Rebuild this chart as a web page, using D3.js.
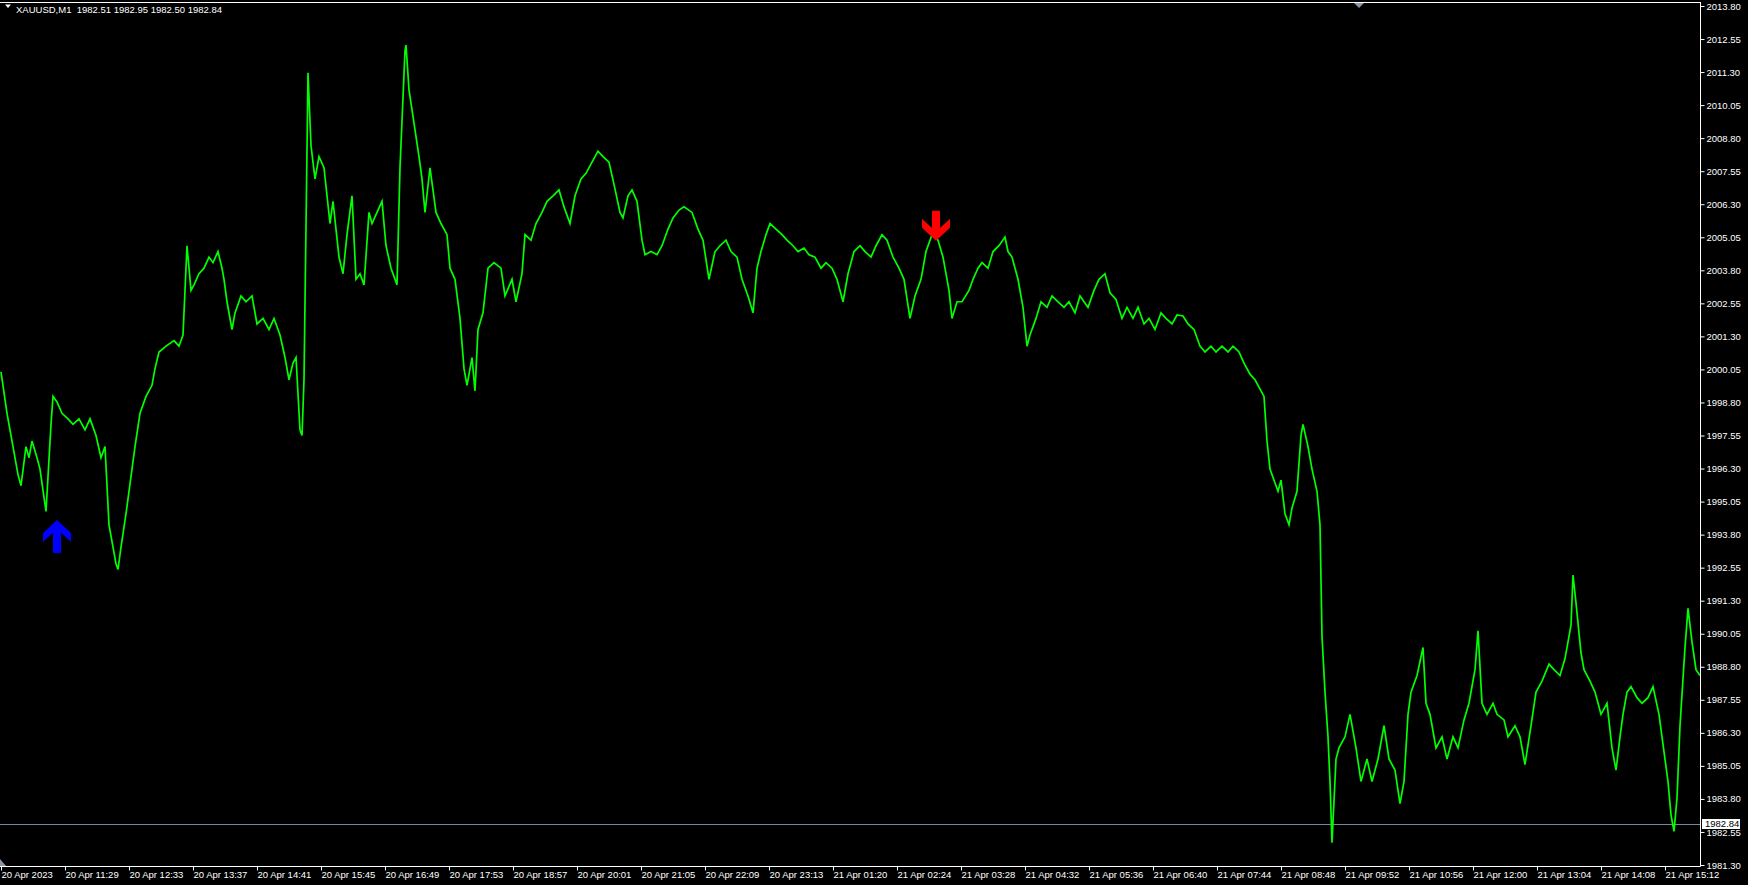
<!DOCTYPE html>
<html><head><meta charset="utf-8">
<script src="https://cdn.jsdelivr.net/npm/d3@7"></script>
<style>
html,body{margin:0;padding:0;background:#000;}
svg{display:block;}
text{font-family:"Liberation Sans",Arial,sans-serif;}
</style></head>
<body>
<svg id="c" width="1748" height="885"></svg>
<script>
// ---- data ----
const symbolTitle = "XAUUSD,M1";
const ohlcText = "1982.51 1982.95 1982.50 1982.84";
const lastPrice = 1982.84;

const barIndex = [0,6,11,17,20,25,28,31,36,39,45,50,52,56,61,67,72,78,84,89,95,100,104,108,112,115,117,120,125,128,134,139,145,151,154,158,165,173,178,182,186,190,193,198,203,208,212,217,221,223,226,231,234,240,245,251,256,262,268,273,279,284,288,292,295,299,301,303,307,310,314,318,323,329,332,338,342,346,351,355,359,363,368,371,376,381,385,390,396,399,404,405,408,413,418,421,424,429,435,440,446,449,454,459,463,466,471,474,477,482,487,493,500,504,511,515,521,524,530,535,541,546,552,558,563,569,574,580,585,591,597,602,608,613,619,622,627,631,636,641,644,650,656,661,667,672,678,683,691,697,702,708,714,719,725,730,736,741,747,752,756,760,765,769,775,781,786,792,797,803,808,814,820,825,831,836,842,847,853,859,864,870,875,881,886,892,898,903,909,914,920,925,931,937,942,948,951,956,961,968,972,977,981,987,992,998,1004,1007,1011,1017,1022,1026,1029,1035,1040,1046,1051,1057,1063,1068,1074,1079,1087,1093,1098,1104,1109,1115,1121,1126,1132,1137,1143,1148,1154,1160,1165,1171,1176,1182,1187,1193,1199,1204,1210,1215,1221,1227,1232,1238,1243,1249,1254,1260,1263,1266,1269,1273,1277,1280,1284,1288,1291,1296,1300,1302,1307,1311,1316,1319,1321,1324,1327,1329,1331,1335,1338,1344,1349,1355,1360,1366,1371,1377,1383,1388,1394,1399,1403,1407,1410,1416,1422,1425,1429,1435,1441,1446,1452,1457,1463,1468,1474,1477,1481,1486,1492,1496,1503,1507,1514,1519,1524,1530,1535,1541,1548,1553,1559,1564,1570,1572,1575,1580,1583,1589,1594,1600,1606,1611,1615,1619,1622,1626,1630,1636,1641,1647,1652,1658,1661,1667,1670,1673,1676,1679,1684,1687,1691,1695,1699];

const closePrice = [1999.96,1998.39,1997.34,1996.07,1995.65,1997.13,1996.71,1997.34,1996.71,1996.28,1994.68,1997.97,1999.03,1998.82,1998.39,1998.18,1997.97,1998.18,1997.76,1998.18,1997.55,1996.71,1997.13,1994.17,1993.33,1992.70,1992.48,1993.33,1994.59,1995.44,1997.13,1998.39,1999.03,1999.45,2000.08,2000.71,2000.93,2001.14,2000.93,2001.35,2004.73,2003.04,2003.25,2003.67,2003.88,2004.30,2004.09,2004.51,2003.88,2003.46,2002.61,2001.56,2002.19,2002.83,2002.61,2002.83,2001.77,2001.98,2001.56,2001.98,2001.35,2000.50,1999.66,2000.29,2000.50,1997.76,1997.55,1999.66,2011.27,2008.52,2007.26,2008.10,2007.68,2005.57,2006.41,2004.30,2003.67,2005.15,2006.62,2003.46,2003.67,2003.25,2005.99,2005.57,2005.99,2006.41,2004.73,2003.88,2003.25,2007.68,2012.11,2012.32,2010.63,2009.37,2008.10,2007.26,2005.99,2007.68,2005.99,2005.57,2005.15,2003.88,2003.46,2001.98,2000.08,1999.45,2000.50,1999.24,2001.56,2002.19,2003.88,2004.09,2003.88,2002.83,2003.46,2002.61,2003.67,2005.15,2004.94,2005.57,2005.99,2006.41,2006.62,2006.84,2006.20,2005.57,2006.62,2007.26,2007.47,2007.89,2008.31,2008.10,2007.89,2007.05,2005.99,2005.78,2006.62,2006.84,2006.41,2004.94,2004.39,2004.51,2004.39,2004.73,2005.36,2005.78,2006.08,2006.20,2005.99,2005.36,2004.94,2003.46,2004.51,2004.73,2004.94,2004.51,2004.30,2003.46,2002.83,2002.19,2003.88,2004.51,2005.15,2005.57,2005.36,2005.15,2004.94,2004.73,2004.51,2004.64,2004.39,2004.30,2003.88,2004.09,2003.88,2003.46,2002.61,2003.67,2004.51,2004.73,2004.51,2004.30,2004.73,2005.15,2004.94,2004.30,2003.88,2003.46,2001.98,2002.83,2003.46,2004.51,2005.15,2004.94,2004.30,2003.04,2001.98,2002.61,2002.61,2003.04,2003.46,2003.88,2004.09,2003.88,2004.51,2004.73,2005.06,2004.51,2004.30,2003.46,2002.40,2000.93,2001.35,2001.98,2002.61,2002.40,2002.83,2002.61,2002.40,2002.61,2002.19,2002.83,2002.40,2003.04,2003.46,2003.67,2002.95,2002.70,2001.98,2002.40,2001.98,2002.40,2001.77,2001.98,2001.56,2002.19,2001.98,2001.77,2002.11,2002.07,2001.77,2001.56,2000.93,2000.71,2000.93,2000.71,2000.93,2000.71,2000.93,2000.71,2000.29,1999.87,1999.66,1999.24,1999.03,1997.34,1996.28,1995.86,1995.44,1995.86,1994.59,1994.17,1994.81,1995.44,1997.55,1997.97,1997.13,1996.28,1995.44,1994.17,1989.95,1987.84,1986.15,1984.46,1982.14,1985.31,1985.73,1986.15,1987.00,1985.73,1984.46,1985.31,1984.46,1985.31,1986.57,1985.31,1984.89,1983.62,1984.46,1987.00,1987.84,1988.47,1989.53,1987.42,1987.00,1985.73,1986.15,1985.31,1986.15,1985.73,1986.79,1987.42,1988.69,1990.16,1987.42,1987.00,1987.42,1987.00,1986.79,1986.15,1986.57,1986.15,1985.10,1986.57,1987.84,1988.26,1988.90,1988.69,1988.47,1989.11,1990.37,1992.27,1991.22,1989.32,1988.69,1988.26,1987.84,1987.00,1987.42,1985.73,1984.89,1986.15,1987.00,1987.84,1988.05,1987.63,1987.42,1987.63,1988.05,1987.00,1986.15,1984.46,1983.20,1982.57,1983.83,1986.57,1989.53,1991.01,1989.74,1988.69,1988.47];

const priceTicks = [2013.80,2012.55,2011.30,2010.05,2008.80,2007.55,2006.30,2005.05,2003.80,2002.55,2001.30,2000.05,1998.80,1997.55,1996.30,1995.05,1993.80,1992.55,1991.30,1990.05,1988.80,1987.55,1986.30,1985.05,1983.80,1982.55,1981.30];

const timeLabels = ["20 Apr 2023","20 Apr 11:29","20 Apr 12:33","20 Apr 13:37","20 Apr 14:41","20 Apr 15:45","20 Apr 16:49","20 Apr 17:53","20 Apr 18:57","20 Apr 20:01","20 Apr 21:05","20 Apr 22:09","20 Apr 23:13","21 Apr 01:20","21 Apr 02:24","21 Apr 03:28","21 Apr 04:32","21 Apr 05:36","21 Apr 06:40","21 Apr 07:44","21 Apr 08:48","21 Apr 09:52","21 Apr 10:56","21 Apr 12:00","21 Apr 13:04","21 Apr 14:08","21 Apr 15:12"];
const timeLabelBars = [0,64,128,192,256,320,384,448,512,576,640,704,768,832,896,960,1024,1088,1152,1216,1280,1344,1408,1472,1536,1600,1664];

const buySignalBar = [56];
const buySignalPrice = [1994.35];
const sellSignalBar = [935];
const sellSignalPrice = [2004.92];

// ---- layout ----
const svg = d3.select("#c");
const W = 1748, H = 885;
const plotL = 0, plotR = 1700, plotT = 2, plotB = 866;

svg.append("rect").attr("width", W).attr("height", H).attr("fill", "#000");

const x = d3.scaleLinear().domain([0, 1699]).range([1, 1700]);
const y = d3.scaleLinear().domain([1981.30, 2013.80]).range([865, 6]);

svg.append("clipPath").attr("id","clip").append("rect")
  .attr("x", plotL).attr("y", plotT).attr("width", plotR - plotL).attr("height", plotB - plotT);

const g = svg.append("g").attr("clip-path","url(#clip)");

// price line (current)
g.append("line")
  .attr("x1", plotL).attr("x2", plotR)
  .attr("y1", Math.round(y(lastPrice)) + 0.5).attr("y2", Math.round(y(lastPrice)) + 0.5)
  .attr("stroke", "#778899").attr("stroke-width", 1);

// series
const pts = barIndex.map((b, i) => [b, closePrice[i]]);
g.append("path")
  .datum(pts)
  .attr("fill", "none")
  .attr("stroke", "#00ff00")
  .attr("stroke-width", 1.7)
  .attr("stroke-linejoin", "miter")
  .attr("d", d3.line().x(d => x(d[0])).y(d => y(d[1])));

// arrows (MT4 style)
function upArrowPath(cx, tipY) {
  const pts = [[0,0],[14,13],[14,22],[4,12.6],[4,33],[-4,33],[-4,12.6],[-14,22],[-14,13]];
  return "M" + pts.map(p => (cx + p[0]) + "," + (tipY + p[1])).join("L") + "Z";
}
function downArrowPath(cx, tipY) {
  const pts = [[0,0],[14,-13],[14,-22],[4,-12.6],[4,-30],[-4,-30],[-4,-12.6],[-14,-22],[-14,-13]];
  return "M" + pts.map(p => (cx + p[0]) + "," + (tipY + p[1])).join("L") + "Z";
}
buySignalBar.forEach((b, i) => {
  g.append("path").attr("d", upArrowPath(x(b), y(buySignalPrice[i]))).attr("fill", "#0000ff");
});
sellSignalBar.forEach((b, i) => {
  g.append("path").attr("d", downArrowPath(x(b), y(sellSignalPrice[i]))).attr("fill", "#ff0000");
});

// border
svg.append("line").attr("x1", 0).attr("x2", plotR + 0.5).attr("y1", plotT + 0.5).attr("y2", plotT + 0.5)
  .attr("stroke", "#fff").attr("stroke-width", 1);
svg.append("line").attr("x1", plotR + 0.5).attr("x2", plotR + 0.5).attr("y1", plotT).attr("y2", plotB + 0.5)
  .attr("stroke", "#fff").attr("stroke-width", 1);
svg.append("line").attr("x1", 0).attr("x2", plotR + 0.5).attr("y1", plotB + 0.5).attr("y2", plotB + 0.5)
  .attr("stroke", "#fff").attr("stroke-width", 1);

// y axis
const yAxis = d3.axisRight(y).tickValues(priceTicks).tickSize(4).tickPadding(2)
  .tickFormat(d3.format(".2f"));
const ya = svg.append("g").attr("transform", `translate(${plotR + 0.5},0)`).call(yAxis);
ya.select(".domain").remove();
ya.selectAll(".tick line").attr("stroke", "#fff");
ya.selectAll(".tick text").attr("fill", "#fff").style("font-size", "9.5px")
  .style("font-family", '"Liberation Sans", Arial, sans-serif');

// x axis
const xAxis = d3.axisBottom(x).tickValues(timeLabelBars).tickSize(4)
  .tickFormat((d, i) => timeLabels[i]);
const xa = svg.append("g").attr("transform", `translate(0,${plotB + 0.5})`).call(xAxis);
xa.select(".domain").remove();
xa.selectAll(".tick line").attr("stroke", "#fff");
xa.selectAll(".tick text").attr("fill", "#fff").attr("text-anchor", "start")
  .attr("x", 0).attr("y", 5).attr("dy", "0.71em")
  .style("font-size", "9.5px").style("font-family", '"Liberation Sans", Arial, sans-serif');

// current price label
const py = Math.round(y(lastPrice));
svg.append("rect").attr("x", 1702).attr("y", py - 5).attr("width", 38).attr("height", 10).attr("fill", "#fff");
svg.append("text").attr("x", 1705).attr("y", py).attr("dy", "0.35em")
  .attr("fill", "#000").style("font-size", "9.5px").text(d3.format(".2f")(lastPrice));

// title
svg.append("path").attr("d", "M5,4.5L11,4.5L8,8Z").attr("fill", "#fff");
svg.append("text").attr("x", 16).attr("y", 13).attr("fill", "#fff").style("font-size", "9.5px")
  .text(symbolTitle + "  " + ohlcText).attr("xml:space", "preserve");

// small markers
svg.append("path").attr("d", "M1354,3L1364,3L1359,8Z").attr("fill", "#8796a8");
svg.append("path").attr("d", "M0,859L0,866L6,866Z").attr("fill", "#8796a8");
</script>
</body></html>
